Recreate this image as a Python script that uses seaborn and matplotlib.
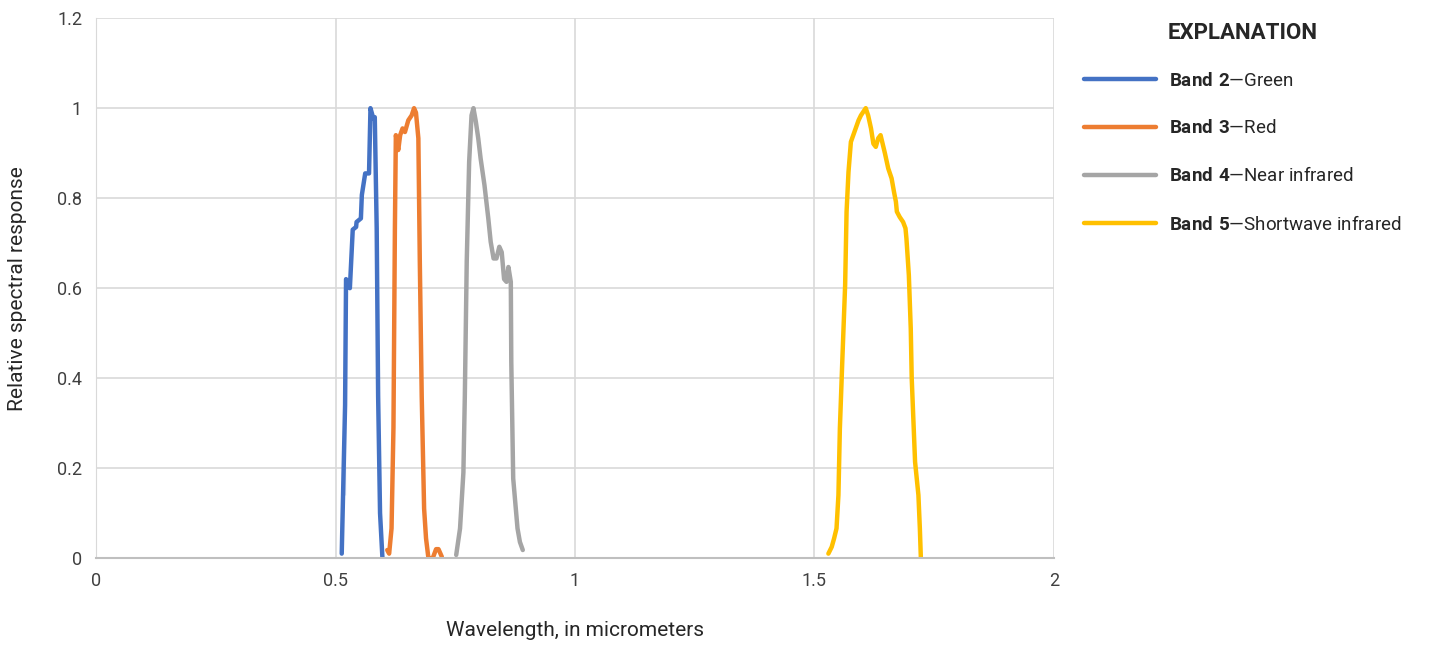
import matplotlib.pyplot as plt
import pandas as pd
import seaborn as sns

# Relative spectral response curves
band2_wl = [0.513, 0.520, 0.520, 0.522, 0.530, 0.536, 0.543, 0.544, 0.553, 0.555,
            0.562, 0.570, 0.573, 0.579, 0.582, 0.586, 0.589, 0.593, 0.598]
band2_rsr = [0.01, 0.14, 0.54, 0.62, 0.60, 0.73, 0.736, 0.747, 0.755, 0.807,
             0.855, 0.855, 1.0, 0.977, 0.98, 0.733, 0.36, 0.10, 0.0]

band3_wl = [0.608, 0.612, 0.617, 0.621, 0.624, 0.626, 0.631, 0.635, 0.640, 0.645,
            0.652, 0.659, 0.664, 0.668, 0.673, 0.676, 0.680, 0.685, 0.689, 0.694,
            0.703, 0.710, 0.715, 0.722]
band3_rsr = [0.018, 0.01, 0.066, 0.29, 0.733, 0.94, 0.907, 0.94, 0.955, 0.947,
             0.973, 0.984, 1.0, 0.99, 0.933, 0.66, 0.36, 0.11, 0.044, 0.0,
             0.0, 0.02, 0.02, 0.003]

band4_wl = [0.752, 0.760, 0.767, 0.770, 0.774, 0.779, 0.784, 0.788, 0.793, 0.798,
            0.803, 0.811, 0.819, 0.824, 0.830, 0.836, 0.842, 0.847, 0.852, 0.857,
            0.861, 0.866, 0.867, 0.871, 0.880, 0.885, 0.891]
band4_rsr = [0.007, 0.066, 0.19, 0.36, 0.66, 0.88, 0.984, 1.0, 0.97, 0.933,
             0.888, 0.829, 0.755, 0.703, 0.666, 0.666, 0.692, 0.68, 0.62, 0.614,
             0.647, 0.614, 0.436, 0.177, 0.066, 0.036, 0.018]

band5_wl = [1.529, 1.536, 1.541, 1.546, 1.550, 1.553, 1.558, 1.564, 1.567, 1.571,
            1.576, 1.581, 1.592, 1.597, 1.607, 1.612, 1.618, 1.623, 1.628, 1.633,
            1.638, 1.647, 1.654, 1.661, 1.666, 1.670, 1.672, 1.678, 1.685, 1.690,
            1.692, 1.697, 1.701, 1.703, 1.710, 1.717, 1.720, 1.722]
band5_rsr = [0.01, 0.025, 0.044, 0.066, 0.14, 0.288, 0.436, 0.607, 0.77, 0.858,
             0.925, 0.94, 0.973, 0.984, 1.0, 0.984, 0.955, 0.921, 0.914, 0.933,
             0.94, 0.90, 0.866, 0.844, 0.814, 0.792, 0.77, 0.758, 0.747, 0.733,
             0.71, 0.629, 0.51, 0.40, 0.214, 0.14, 0.066, 0.003]

band_labels = [
    r"$\mathbf{Band\ 2}$—Green",
    r"$\mathbf{Band\ 3}$—Red",
    r"$\mathbf{Band\ 4}$—Near infrared",
    r"$\mathbf{Band\ 5}$—Shortwave infrared",
]
band_colors = ["#4472C4", "#ED7D31", "#A5A5A5", "#FFC000"]

frames = []
for label, wl, rsr in zip(band_labels,
                          [band2_wl, band3_wl, band4_wl, band5_wl],
                          [band2_rsr, band3_rsr, band4_rsr, band5_rsr]):
    frames.append(pd.DataFrame({"wavelength": wl, "response": rsr, "band": label}))
df = pd.concat(frames, ignore_index=True)

sns.set_style("white")
plt.rcParams["font.family"] = ["Roboto", "DejaVu Sans"]
plt.rcParams["mathtext.fontset"] = "custom"
plt.rcParams["mathtext.bf"] = "Roboto:bold"
plt.rcParams["mathtext.rm"] = "Roboto"

fig = plt.figure(figsize=(14.33, 6.49), dpi=100)
ax = fig.add_axes([0.067, 0.140, 0.6685, 0.832])

sns.lineplot(data=df, x="wavelength", y="response", hue="band",
             palette=dict(zip(band_labels, band_colors)), sort=False,
             linewidth=3.2, ax=ax)

ax.set_xlim(0, 2)
ax.set_ylim(0, 1.2)
ax.set_xticks([0, 0.5, 1, 1.5, 2])
ax.set_xticklabels(["0", "0.5", "1", "1.5", "2"])
ax.set_yticks([0, 0.2, 0.4, 0.6, 0.8, 1, 1.2])
ax.set_yticklabels(["0", "0.2", "0.4", "0.6", "0.8", "1", "1.2"])
ax.grid(True, color="#d9d9d9", linewidth=1.2)
ax.set_axisbelow(True)
for side in ["top", "right"]:
    ax.spines[side].set_visible(False)
ax.spines["left"].set_color("#d9d9d9")
ax.spines["bottom"].set_color("#bfbfbf")
ax.spines["bottom"].set_linewidth(1.5)
ax.tick_params(length=0, labelsize=13, colors="#404040", pad=10)
ax.set_xlabel("Wavelength, in micrometers", fontsize=15, labelpad=22, color="#262626")
ax.set_ylabel("Relative spectral response", fontsize=15, labelpad=22, color="#262626")

handles, labels = ax.get_legend_handles_labels()
ax.get_legend().remove()
leg = fig.legend(handles, labels, title="EXPLANATION", loc="upper left",
                 bbox_to_anchor=(0.745, 0.992), frameon=False, fontsize=13.5,
                 handlelength=3.8, labelspacing=1.56, handletextpad=0.7)
leg.get_title().set_fontweight("bold")
leg.get_title().set_fontsize(16)
leg._legend_box.sep = 20
for line in leg.get_lines():
    line.set_linewidth(3.2)

fig.savefig("out.png", dpi=100)
